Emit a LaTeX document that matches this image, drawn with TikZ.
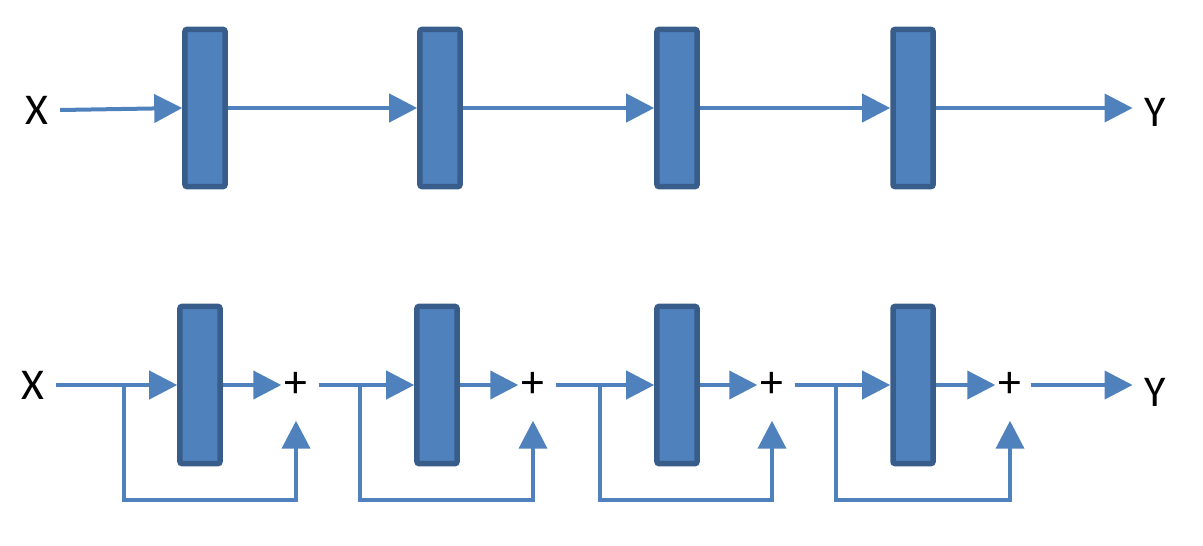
\documentclass[tikz,border=0pt]{standalone}
\usepackage{fontspec}
\setmainfont{Carlito}
\usetikzlibrary{arrows.meta}
\definecolor{lnblue}{HTML}{4F81BD}
\definecolor{lnedge}{HTML}{385D8A}
\tikzset{layer/.style={draw=lnedge,fill=lnblue,line width=0.055cm,minimum width=0.40cm,
    minimum height=1.57cm,inner sep=0pt,rounded corners=0.02cm},
  wire/.style={lnblue,line width=0.04cm},
  flow/.style={wire,-{Triangle[length=0.28cm,width=0.28cm]}},
  lbl/.style={font=\fontsize{12.5}{15}\selectfont,inner sep=0.11cm},
  sumnode/.style={font=\fontsize{13}{15}\selectfont,inner sep=0pt,minimum width=0.28cm,minimum height=0.7cm}}
\begin{document}
\begin{tikzpicture}[x=0.01cm,y=-0.01cm]
  \useasboundingbox (0,0) rectangle (1203,545);
  % plain stack
  \node[lbl] (xa) at (37,110) {X};
  \node[lbl] (ya) at (1155,112) {Y};
  \foreach \i/\x in {1/205,2/440,3/677,4/913}{\node[layer] (a\i) at (\x,108) {};}
  \draw[flow] (xa.east) -- (a1.west);
  \foreach \i/\j in {1/2,2/3,3/4}{\draw[flow] (a\i.east) -- (a\j.west);}
  \draw[flow] (a4.east) -- (a4.east -| ya.west);
  % residual stack
  \node[lbl] (xb) at (33,385) {X};
  \node[lbl] (yb) at (1155,392) {Y};
  \foreach \i/\x/\s/\b in {1/200/296/124,2/437/533/360,3/677/772/600,4/913/1010/836}{%
    \node[layer] (b\i) at (\x,385) {};
    \node[sumnode] (s\i) at (\s,385) {+};
    \coordinate (br\i) at (\b,385);
    \draw[flow] (b\i.east) -- (s\i.west);
    \draw[flow] (br\i) -- ++(0,115) -| (s\i.south);}
  \draw[flow] (xb.east) -- (b1.west);
  \foreach \i/\j in {1/2,2/3,3/4}{\draw[flow,shorten <=0.08cm] (s\i.east) -- (b\j.west);}
  \draw[flow,shorten <=0.06cm] (s4.east) -- (s4.east -| yb.west);
\end{tikzpicture}
\end{document}
